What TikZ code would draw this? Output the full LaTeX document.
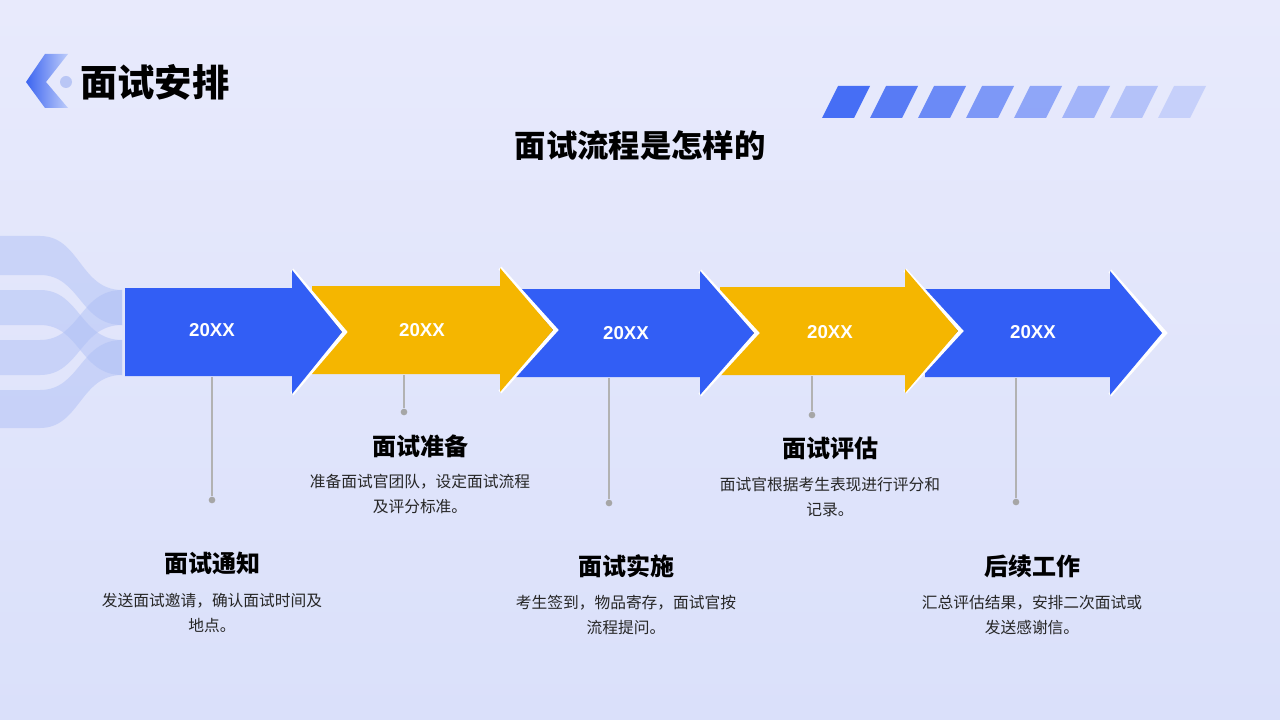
\documentclass[tikz,border=0pt]{standalone}
\usepackage{fontspec}
\setmainfont{Liberation Sans}
\newfontfamily\cjk{Noto Sans CJK SC}
\definecolor{bgtop}{RGB}{232,234,252}
\definecolor{bgbot}{RGB}{218,224,250}
\definecolor{deco}{RGB}{170,188,245}
\definecolor{icl}{RGB}{60,100,240}
\definecolor{icr}{RGB}{190,205,250}
\definecolor{icd}{RGB}{185,198,245}
\definecolor{strp}{RGB}{70,110,245}
\definecolor{ab}{RGB}{50,94,245}
\definecolor{ay}{RGB}{245,182,0}
\begin{document}
\begin{tikzpicture}[x=0.75pt,y=-0.75pt,
  yr/.style={font=\bfseries\fontsize{14}{16}\selectfont,text=white},
  ttl/.style={font=\cjk\bfseries\fontsize{18}{20}\selectfont,text=black},
  dsc/.style={font=\cjk\fontsize{11.8}{18.7}\selectfont,text=black!85,align=center},
  stem/.style={draw=gray!60,line width=0.8pt},
  dotn/.style={circle,fill=gray!70,inner sep=0pt,minimum size=5pt}]
\useasboundingbox (0,0) rectangle (1280,720);
\shade[top color=bgtop,bottom color=bgbot] (0,0) rectangle (1280,720);
% left decoration
\begin{scope}[fill=deco,fill opacity=0.45]
\fill (0,236) -- (40,236) .. controls (80,236) and (80,290) .. (122,290) -- (122,325) .. controls (80,325) and (80,275) .. (40,275) -- (0,275) -- cycle;
\fill (0,290) -- (40,290) .. controls (80,290) and (80,340) .. (122,340) -- (122,375) .. controls (80,375) and (80,325) .. (40,325) -- (0,325) -- cycle;
\fill (0,340) -- (40,340) .. controls (80,340) and (80,290) .. (122,290) -- (122,325) .. controls (80,325) and (80,375) .. (40,375) -- (0,375) -- cycle;
\fill (0,390) -- (40,390) .. controls (80,390) and (80,340) .. (122,340) -- (122,375) .. controls (80,375) and (80,428) .. (40,428) -- (0,428) -- cycle;
\end{scope}
% header icon
\shade[left color=icl,right color=icr] (45,54) -- (68,54) -- (46,82) -- (68,108) -- (45,108) -- (26,82) -- cycle;
\fill[icd] (66,82) circle (6);
\node[font=\cjk\bfseries\fontsize{28}{32}\selectfont,anchor=west,inner sep=0pt] (title) at (80,82) {面试安排};
% stripes
\foreach \i in {0,...,7}{
  \pgfmathsetmacro\op{1-\i*0.115}
  \fill[strp,fill opacity=\op] (838+\i*48,86) -- (870+\i*48,86) -- (854+\i*48,118) -- (822+\i*48,118) -- cycle;}
\node[font=\cjk\bfseries\fontsize{23.5}{26}\selectfont] (sub) at (640,146) {面试流程是怎样的};
% arrows (drawn from last to first)
\def\arr#1#2#3#4#5{%
  \fill[#5] (#1,#4-44) -- (#2,#4-44) -- (#2,#4-62) -- (#3,#4) -- (#2,#4+62) -- (#2,#4+44) -- (#1,#4+44) -- cycle;}
\draw[white,line width=3pt] (1110,271) -- (1165,333) -- (1110,395);
\arr{925}{1110}{1162}{333}{ab}
\draw[white,line width=3pt] (905,270) -- (961,331) -- (905,392);
\arr{720}{905}{958}{331}{ay}
\draw[white,line width=3pt] (700,271) -- (757,333) -- (700,395);
\arr{515}{700}{754}{333}{ab}
\draw[white,line width=3pt] (500,268) -- (556,330) -- (500,392);
\arr{312}{500}{553}{330}{ay}
\draw[white,line width=3pt] (292,270) -- (345,332) -- (292,394);
\arr{125}{292}{342}{332}{ab}
\node[yr] (y1) at (212,330) {20XX};
\node[yr] (y2) at (422,330) {20XX};
\node[yr] (y3) at (626,333) {20XX};
\node[yr] (y4) at (830,332) {20XX};
\node[yr] (y5) at (1033,332) {20XX};
% stems
\node[dotn] (d1) at (212,500) {};
\node[dotn] (d2) at (404,412) {};
\node[dotn] (d3) at (609,503) {};
\node[dotn] (d4) at (812,415) {};
\node[dotn] (d5) at (1016,502) {};
\coordinate (s1) at (212,377); \coordinate (s2) at (404,375);
\coordinate (s3) at (609,378); \coordinate (s4) at (812,376);
\coordinate (s5) at (1016,378);
\foreach \k in {1,...,5}{\draw[stem] (s\k) -- (d\k);}
% texts
\node[ttl] (t1) at (212,563) {面试通知};
\node[dsc] (p1) at (212,613) {发送面试邀请，确认面试时间及\\地点。};
\node[ttl] (t2) at (420,446) {面试准备};
\node[dsc] (p2) at (420,494) {准备面试官团队，设定面试流程\\及评分标准。};
\node[ttl] (t3) at (626,566) {面试实施};
\node[dsc] (p3) at (626,615) {考生签到，物品寄存，面试官按\\流程提问。};
\node[ttl] (t4) at (830,448) {面试评估};
\node[dsc] (p4) at (830,497) {面试官根据考生表现进行评分和\\记录。};
\node[ttl] (t5) at (1032,566) {后续工作};
\node[dsc] (p5) at (1032,615) {汇总评估结果，安排二次面试或\\发送感谢信。};
\end{tikzpicture}
\end{document}
